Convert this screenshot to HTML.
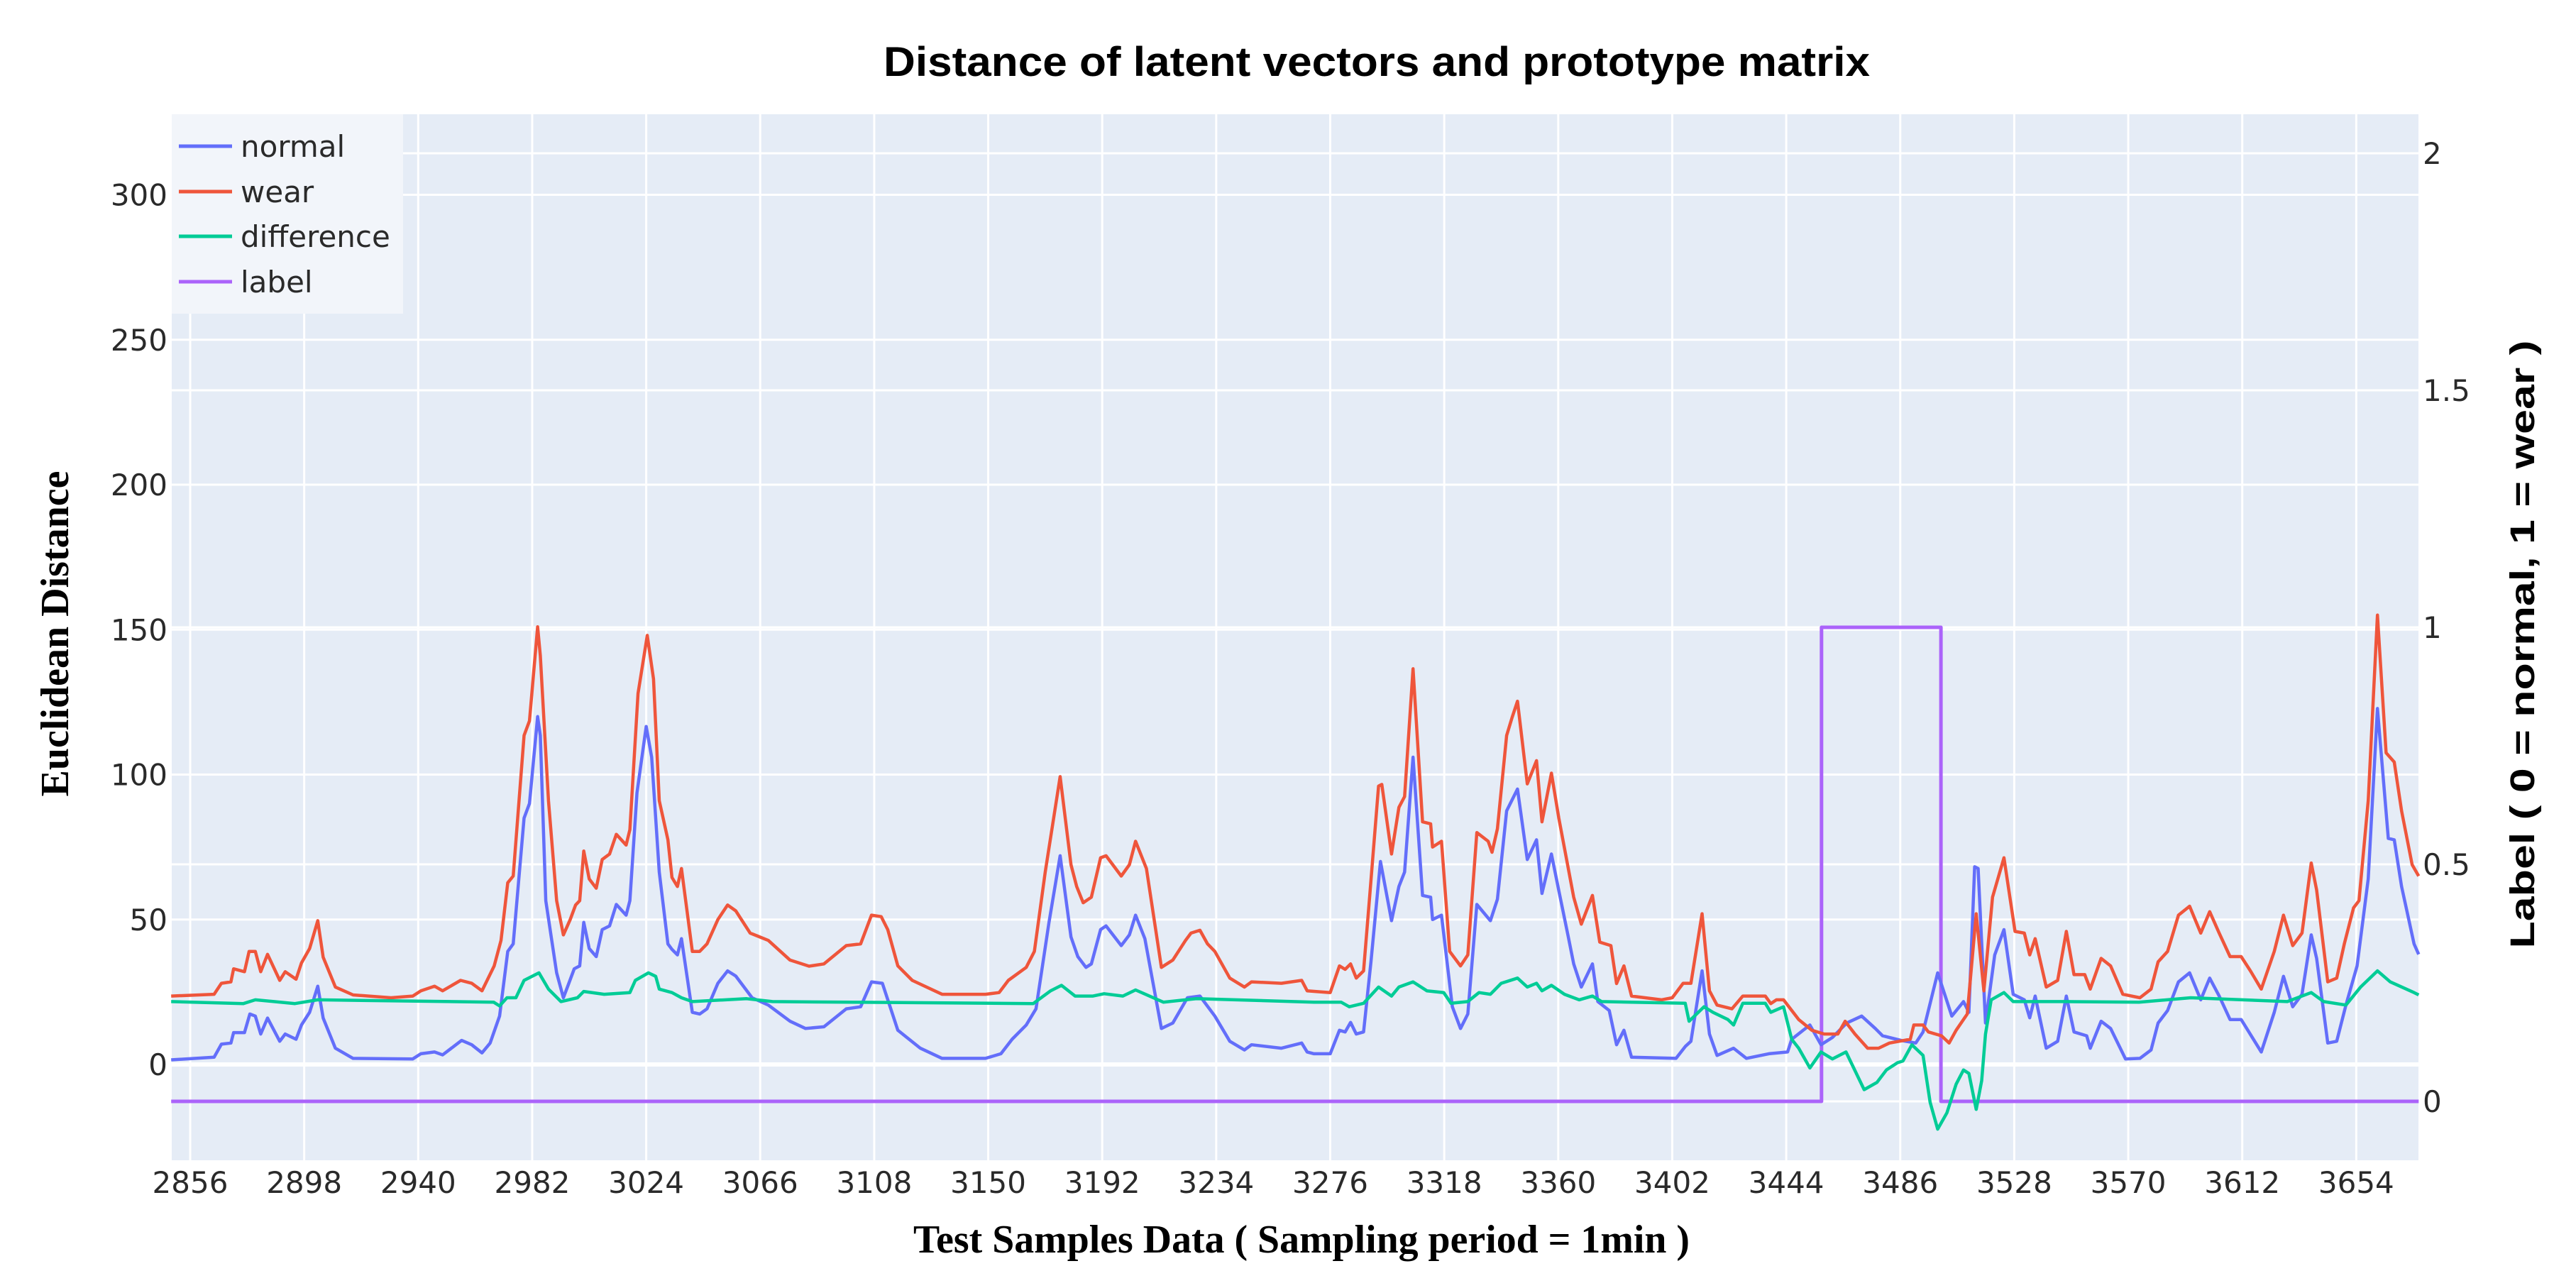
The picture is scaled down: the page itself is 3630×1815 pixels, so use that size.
<!DOCTYPE html>
<html><head><meta charset="utf-8"><style>
html,body{margin:0;padding:0;background:#fff;}
svg{display:block;}
</style></head><body>
<svg id="chart" width="3630" height="1815" viewBox="0 0 3630 1815" xmlns="http://www.w3.org/2000/svg">
<rect x="242" y="161" width="3166" height="1474" fill="#E5ECF6"/>
<g id="grid"></g>
<g id="lines"></g>
<g id="ticks"></g>
<g>
<rect x="242" y="161" width="326" height="281" fill="#F2F5FA"/>
<g><line x1="252" y1="206" x2="327" y2="206" stroke="#636EFA" stroke-width="5"/><text x="339" y="221" font-family="DejaVu Sans, sans-serif" font-size="42" fill="#2a2a2a">normal</text></g>
<g><line x1="252" y1="270" x2="327" y2="270" stroke="#EF553B" stroke-width="5"/><text x="339" y="285" font-family="DejaVu Sans, sans-serif" font-size="42" fill="#2a2a2a">wear</text></g>
<g><line x1="252" y1="333" x2="327" y2="333" stroke="#00CC96" stroke-width="5"/><text x="339" y="348" font-family="DejaVu Sans, sans-serif" font-size="42" fill="#2a2a2a">difference</text></g>
<g><line x1="252" y1="397" x2="327" y2="397" stroke="#AB63FA" stroke-width="5"/><text x="339" y="412" font-family="DejaVu Sans, sans-serif" font-size="42" fill="#2a2a2a">label</text></g>
</g>
<text x="1245" y="107" font-family="Liberation Sans, sans-serif" font-weight="bold" font-size="58" textLength="1390" lengthAdjust="spacingAndGlyphs" fill="#000">Distance of latent vectors and prototype matrix</text>
<text x="1287" y="1765" font-family="Liberation Serif, serif" font-weight="bold" font-size="56" textLength="1094" lengthAdjust="spacingAndGlyphs" fill="#000">Test Samples Data ( Sampling period = 1min )</text>
<text transform="translate(96,893) rotate(-90)" text-anchor="middle" font-family="Liberation Serif, serif" font-weight="bold" font-size="56" textLength="459" lengthAdjust="spacingAndGlyphs" fill="#000">Euclidean Distance</text>
<text transform="translate(3571,908) rotate(-90)" text-anchor="middle" font-family="Liberation Sans, sans-serif" font-weight="bold" font-size="48" textLength="857" lengthAdjust="spacingAndGlyphs" fill="#000">Label ( 0 = normal, 1 = wear )</text>
</svg>
<script>
const xTicks=[2856,2898,2940,2982,3024,3066,3108,3150,3192,3234,3276,3318,3360,3402,3444,3486,3528,3570,3612,3654];
const yTicks=[0,50,100,150,200,250,300];
const y2Ticks=[0,0.5,1,1.5,2];
const y2TickLabels=["0","0.5","1","1.5","2"];
const wearX=[2849,2864.8,2867.5,2871,2872,2876,2877.7,2880,2882,2884.5,2889,2891,2895,2897,2900,2903,2905,2909.5,2916,2930,2938,2941,2946,2949,2955.6,2959.7,2963.5,2968,2970.5,2973,2975,2979,2981,2984,2985,2988,2991,2993.5,2996,2998,2999.5,3001,3003,3005.6,3007.8,3010.5,3013,3016.6,3018,3021,3024.4,3026.7,3028.8,3032,3033.5,3035.5,3037,3041,3043.7,3046.4,3050.4,3054,3057,3062.3,3065,3069,3077,3084,3089.5,3097.7,3103,3107,3110.6,3113,3116.7,3122,3133,3149,3154,3157.4,3164,3167,3171,3176.5,3180.5,3182.6,3185,3188,3191.4,3193.4,3199,3202,3204.3,3208.3,3213.8,3218,3222.7,3224.7,3228,3230.8,3233.5,3239,3244.4,3247,3258,3265.5,3267.5,3276,3279.4,3281.5,3283.5,3285.6,3288.3,3290.4,3293.8,3295,3298.6,3301.3,3303.4,3306.5,3310,3313,3313.7,3317,3320,3324,3326.7,3330,3334.2,3335.6,3337.6,3341,3343,3345,3348.6,3352,3354,3357.5,3360.2,3363.7,3365.7,3368.5,3372.6,3375.3,3379.4,3381.5,3384.2,3387,3398,3402,3406,3408.9,3413,3415.7,3418.5,3424,3428,3436.3,3438.3,3440.4,3443,3448.6,3453.4,3458,3463,3465.7,3469.3,3474,3478,3482,3489.7,3491,3494.4,3496.4,3501.2,3504,3506.6,3510.7,3514,3516.8,3520,3524.2,3528.3,3531.7,3533.7,3535.7,3539.8,3544,3547.2,3550,3554,3556,3560,3563.5,3568,3574.3,3578.4,3581,3584.5,3588.5,3592.6,3596.7,3600,3603.5,3607.5,3611.6,3615,3619,3623.8,3627.2,3630.6,3634,3637.4,3639.4,3643.5,3646.8,3649.6,3653,3655,3658.4,3661.8,3665,3668,3670.7,3674.6,3677];
const wearY=[23.6,24.2,28,28.5,33,32,39,39,32,38,29,32,29.4,35,40,49.6,37,26.7,24,23,23.6,25.4,27,25.4,29,28,25.4,34,42.8,62.7,65,113.5,118.5,151,141,91,56.5,44.7,50,55,56.5,73.6,64,60.8,70.7,72.6,79.4,75.7,81,128,148,133,91,77.5,64.5,61.4,67.6,39,39,41.6,50,55,53,45.3,44.3,42.8,36,33.9,34.7,41,41.6,51.5,51,46.5,34,29,24.2,24.2,24.8,29,33.5,39,66.4,99.3,68.9,61.4,55.8,57.7,71.3,72,65,68.9,77,67.6,33.5,36,42.8,45.3,46.3,41.6,39,29.8,26.7,28.5,28,29,25.4,24.8,34,32.8,34.7,29.8,32.3,56.5,96,96.6,72.6,88.7,92.4,136.5,83.7,83,75,77,39,34,37.8,80,77,73.2,81.3,113.5,119.7,125.3,96.8,104.8,83.7,100.5,85,67.6,57.7,48.4,58.3,42.2,41,27.9,34,23.6,22.3,23,28,28,52,25.4,20.5,19.2,23.6,23.6,21,22.3,22.3,15.5,11.8,10.5,10.5,14.9,10.5,5.6,5.6,7.4,8.7,13.6,13.6,11.2,9.9,7.4,11.8,17.4,52,25.4,57.7,71.3,45.9,45.3,37.8,43.4,26.7,29,45.9,31,31,26,36.6,34,24.2,23,26,35.4,39,51.5,54.6,45.3,52.7,45.3,37.2,37.2,32.3,26,39,51.5,41,45.3,69.5,60.2,28.5,29.8,41.6,54,56.5,91,155,107.5,104.3,87.5,68.9,65];
const normalX=[2849,2864.8,2867.5,2871,2872,2876,2878,2880,2882,2884.5,2889,2891,2895,2897,2900,2903,2905,2909.5,2916,2938,2941,2946,2949,2956,2959.7,2963.5,2966.5,2970,2973,2975,2979,2981,2984,2985,2987,2991,2993.5,2995.5,2997.5,2999.5,3001,3003,3005.6,3007.8,3010.5,3013,3016.6,3018,3020.6,3024,3026,3028.8,3032,3033.5,3035.5,3037,3041,3043.7,3046.4,3050.4,3054,3057,3063,3069,3077,3082.7,3089.5,3097.7,3103,3107,3111,3116.7,3125,3133,3149,3154.7,3158.8,3164,3167.6,3172.4,3176.5,3180.5,3183,3186,3188,3191.4,3193.4,3199,3202,3204.3,3207.7,3213.8,3218,3223.4,3228,3233.5,3239,3244.4,3247,3258,3265.5,3267.5,3270,3276,3279.4,3281.5,3283.5,3285.6,3288.3,3291,3294.5,3298.6,3301.3,3303.4,3306.5,3310,3313,3313.7,3317,3321,3324,3326.7,3330,3335,3337.6,3341,3345,3348.6,3352,3354,3357.5,3360.2,3363.7,3365.7,3368.5,3372.6,3374.6,3378.8,3381.5,3384.2,3387,3403.4,3406.8,3408.9,3413,3415.7,3418.5,3424.6,3429.3,3437.6,3444.5,3446,3452.7,3456.8,3461,3466.3,3471.8,3476.8,3479.5,3486.3,3491.7,3494.4,3499.8,3505,3509.3,3511.3,3513.4,3514.7,3517.4,3520.8,3524.2,3527.6,3531.7,3533.7,3535.7,3539.8,3544,3547.2,3550,3554.7,3556,3560,3563.5,3569,3574.3,3578.4,3581,3584.5,3588.5,3592.6,3596.7,3600,3603.5,3607.5,3611.6,3619,3623.8,3627.2,3630.6,3634,3637.4,3639.4,3643.5,3646.8,3650.2,3654.3,3658.4,3661.8,3665.8,3668,3670.7,3675.3,3677];
const normalY=[1.6,2.5,7,7.4,11,11,17.4,16.7,10.5,16,8,10.5,8.7,13.6,18,27,16,5.6,2.1,1.9,3.7,4.3,3.3,8.3,6.8,4,7.4,16.7,39,41.6,85,90,120,113.5,56.5,31.6,23,28,33,34,49,40,37.2,46.5,47.8,55.2,51.5,56.5,93.7,116.6,106,66.4,41.6,39.7,37.8,43.4,18,17.4,19.2,28,32.3,30.5,23,20.5,14.9,12.4,13,19.2,19.9,28.5,28,11.8,5.6,2.1,2.1,3.7,8.7,13.6,19.2,49,72,44,37.2,33.5,34.7,46.5,47.8,41,44.7,51.5,43.4,12.4,14.3,23,23.6,16.7,8,5,6.8,5.6,7.4,4.3,3.7,3.7,11.8,11.2,14.5,10.5,11.2,35.4,70,49.6,61.4,66.4,106,58.3,57.7,50,51.5,19.9,12.4,17.4,55.2,49.6,57,87.5,95,70.7,77.5,59,72.6,60,44,34.7,26.7,34.7,21.7,18.6,6.8,11.8,2.5,2.1,6.2,8,32.3,10.5,3.1,5.6,2.1,3.7,4.3,8.7,13.6,6.8,9.3,14.3,16.7,12.4,9.9,8.3,7.4,11.2,31.6,16.7,21.7,18,68.2,67.6,14.3,37.8,46.5,24.2,22.3,16.1,23.6,5.6,8,23.6,11.2,9.9,5.6,14.9,12.4,1.9,2.1,5,14.3,18.6,28.5,31.6,22.3,29.8,23.6,15.5,15.5,4.3,18,30.4,19.9,24.2,44.7,36.6,7.4,8,20.5,34,64,122.8,78,77.5,61.4,41.6,38];
const diffX=[2849,2875.6,2880,2894.6,2903,2967.8,2970,2972.7,2976,2979,2984.5,2988,2992.6,2998.7,3001,3008.5,3018,3020,3024.8,3027.5,3028.8,3033.5,3037,3041,3061,3070.5,3166.6,3173,3177,3182,3188.6,3192.7,3199.6,3204.3,3214.5,3226.7,3270,3280,3283,3288.3,3293.8,3298.6,3301.3,3306.5,3311.6,3317.8,3320.5,3326.7,3330.8,3335,3339,3345,3348.6,3352,3354,3357.5,3362.3,3367.7,3372.6,3376,3406.8,3408.2,3413.7,3417,3422.5,3424.6,3428,3436.3,3438.3,3443,3446,3448.6,3452.7,3456.8,3461,3466,3472.7,3477.4,3480.9,3485,3487,3490.3,3494.4,3497,3499.8,3503.2,3506.6,3509.3,3511.3,3514,3516,3517.4,3519.5,3524.2,3527.6,3547,3574,3593,3628.6,3637.4,3642,3650.2,3655.6,3661.8,3666.5,3675.3,3677];
const diffY=[21.7,21,22.3,21,22.3,21.5,20.2,23,23,29,31.6,26,21.7,23,25.2,24.2,24.8,29,31.6,30.4,26,24.8,23,21.7,22.7,21.7,21,25.4,27.3,23.6,23.6,24.4,23.6,25.7,21.5,22.7,21.5,21.5,19.9,21.1,26.7,23.6,26.7,28.5,25.4,24.8,21.1,21.7,24.8,24.2,28,29.8,26.7,28,25.4,27.3,24.2,22.3,23.6,21.7,21.1,14.9,19.9,18,15.5,13.6,21.1,21.1,18,19.9,8.7,5.6,-1.2,4.3,1.9,4.3,-8.7,-6.2,-1.9,0.6,1.2,6.8,3.1,-13,-22.3,-16.7,-6.8,-1.9,-3.1,-15.5,-5.6,10.5,22.3,24.8,21.7,21.7,21.5,23,21.7,24.8,21.7,20.5,26.7,32.3,28.5,24.8,24];
const labelX=[2849,3457,3457,3501,3501,3677];
const labelY=[0,0,1,1,0,0];

const NS="http://www.w3.org/2000/svg";
const L=242,R=3408,T=161,B=1635;
function xs(v){return 268+(v-2856)*3.825;}
function ys(v){return 1500-v*4.085;}
function ys2(v){return 1552-v*668;}
function mk(tag,attrs,parent){const e=document.createElementNS(NS,tag);for(const k in attrs)e.setAttribute(k,attrs[k]);parent.appendChild(e);return e;}
const grid=document.getElementById('grid');
const lines=document.getElementById('lines');
const ticks=document.getElementById('ticks');
xTicks.forEach(t=>{
  const g=mk('line',{x1:xs(t),x2:xs(t),y1:T,y2:B,stroke:'#fff','stroke-width':3},grid);
  
  
  const tx=mk('text',{x:xs(t),y:1681,'text-anchor':'middle','font-family':'DejaVu Sans, sans-serif','font-size':42,fill:'#2a2a2a'},ticks);
  tx.textContent=t;
  
  
});
yTicks.forEach(t=>{
  const g=mk('line',{x1:L,x2:R,y1:ys(t),y2:ys(t),stroke:'#fff','stroke-width':t===0?6:3},grid);
  
  
  const tx=mk('text',{x:236,y:ys(t)+15,'text-anchor':'end','font-family':'DejaVu Sans, sans-serif','font-size':42,fill:'#2a2a2a'},ticks);
  tx.textContent=t;
  
  
});
y2Ticks.forEach((t,i)=>{
  const g=mk('line',{x1:L,x2:R,y1:ys2(t),y2:ys2(t),stroke:'#fff','stroke-width':3},grid);
  
  
  const tx=mk('text',{x:3414,y:ys2(t)+15,'font-family':'DejaVu Sans, sans-serif','font-size':42,fill:'#2a2a2a'},ticks);
  tx.textContent=y2TickLabels[i];
  
  
});
function path(X,Y,fy,color,w,name){
  let d='';
  for(let i=0;i<X.length;i++){d+=(i?'L':'M')+xs(X[i]).toFixed(1)+','+fy(Y[i]).toFixed(1);}
  const p=mk('path',{d:d,fill:'none',stroke:color,'stroke-width':w,'stroke-linejoin':'round'},lines);
  
  
}
path(labelX,labelY,ys2,'#AB63FA',5,'label-line');
path(normalX,normalY,ys,'#636EFA',4.5,'normal-line');
path(wearX,wearY,ys,'#EF553B',4.5,'wear-line');
path(diffX,diffY,ys,'#00CC96',4.5,'difference-line');
</script>
</body></html>
